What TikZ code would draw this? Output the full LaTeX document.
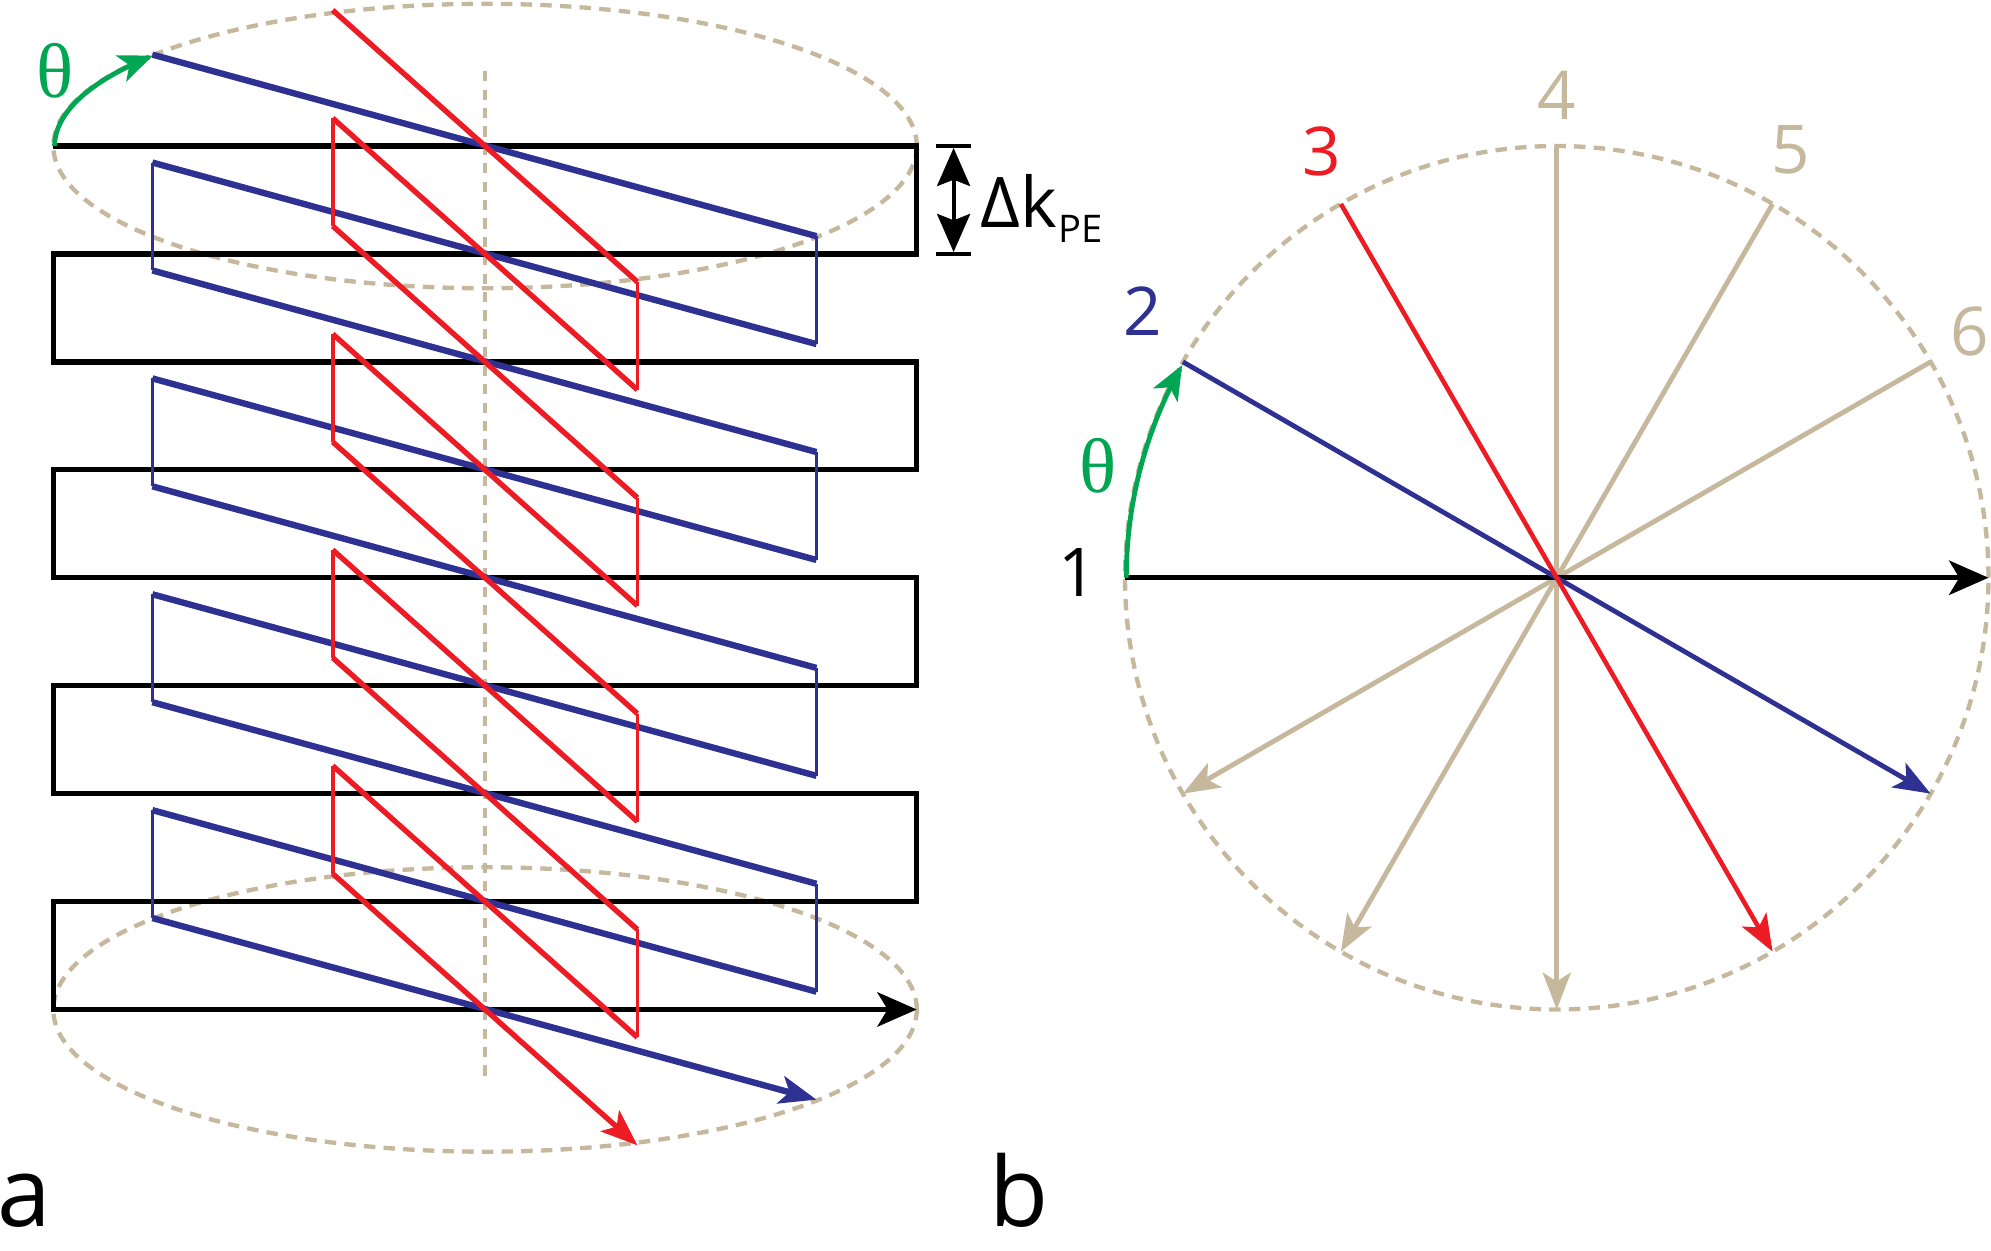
\documentclass[tikz,border=0pt]{standalone}
\usepackage{fontspec}
\setmainfont{Open Sans}
\newfontfamily\thetafont{Liberation Serif}
\usetikzlibrary{arrows.meta}
\definecolor{tanc}{RGB}{198,184,157}
\definecolor{kblue}{RGB}{46,49,146}
\definecolor{kred}{RGB}{237,28,36}
\definecolor{kgreen}{RGB}{0,166,81}
\begin{document}
\begin{tikzpicture}[x=1pt,y=-1pt,
  blk/.style={line width=4.2pt, black},
  bdiag/.style={line width=5pt, kblue},
  bvert/.style={line width=2.8pt, kblue},
  rdiag/.style={line width=4.2pt, kred},
  rvert/.style={line width=3pt, kred},
  dashring/.style={line width=3.4pt, tanc, dash pattern=on 9pt off 6.5pt},
  axisdash/.style={line width=2.8pt, tanc, dash pattern=on 8pt off 6.5pt},
  spoke/.style={line width=3.8pt},
  arrowbig/.style={-{Stealth[length=31pt,width=27pt,inset=8pt]}},
  arrowsmall/.style={-{Stealth[length=29pt,width=22pt,inset=7pt]}},
  arrowgreen/.style={-{Stealth[length=27pt,width=22pt,inset=7pt]}},
  lbl/.style={inner sep=0pt, font=\fontsize{53}{60}\selectfont, anchor=base},
  thetalbl/.style={inner sep=0pt, text=kgreen, font=\thetafont\fontsize{61}{64}\selectfont},
  panel/.style={inner sep=0pt, anchor=base west, font=\fontsize{76}{80}\selectfont},
]
\fill[white] (0,0) rectangle (1568,985);
\useasboundingbox (0,0) rectangle (1568,985);

% ---------- panel a ----------
\draw[dashring] (382,115) ellipse[x radius=340pt, y radius=112pt];
\draw[dashring] (382,795) ellipse[x radius=340pt, y radius=112pt];
\draw[axisdash] (382,56) -- (382,853);

\draw[blk, line join=miter, arrowbig] (42,115) -- (722,115) -- (722,200) -- (42,200)
  -- (42,285) -- (722,285) -- (722,370) -- (42,370) -- (42,455) -- (722,455)
  -- (722,540) -- (42,540) -- (42,625) -- (722,625) -- (722,710) -- (42,710)
  -- (42,795) -- (722,795);

\foreach \k in {0,...,7} \draw[bdiag] (120,43+85*\k) -- (643,186+85*\k);
\draw[bdiag, arrowsmall] (120,723) -- (643,866);
\foreach \k in {0,2,4,6} \draw[bvert] (643,186+85*\k) -- (643,271+85*\k);
\foreach \k in {1,3,5,7} \draw[bvert] (120,43+85*\k) -- (120,128+85*\k);

\foreach \k in {0,...,7} \draw[rdiag] (262,8+85*\k) -- (502,222+85*\k);
\draw[rdiag, arrowsmall] (262,688) -- (502,902);
\foreach \k in {0,2,4,6} \draw[rvert] (502,222+85*\k) -- (502,307+85*\k);
\foreach \k in {1,3,5,7} \draw[rvert] (262,8+85*\k) -- (262,93+85*\k);

\draw[kgreen, line width=3.8pt, arrowgreen] plot[domain=180:219.5, samples=40, smooth]
  ({382+339*cos(\x)},{115+112*sin(\x)});
\node[thetalbl] (thA) at (43,56) {θ};

\draw[line width=3.6pt] (737,115) -- (765,115) (737,200) -- (765,200);
\draw[line width=3pt, {Stealth[length=30pt,width=26pt,inset=5pt]}-{Stealth[length=30pt,width=26pt,inset=5pt]}] (751,116.5) -- (751,198.5);
\node[inner sep=0pt, anchor=base west] (dk) at (772,179)
  {\fontsize{55}{60}\selectfont Δk\hspace{1pt}\raisebox{-12pt}{\fontsize{30}{30}\selectfont PE}};

% ---------- panel b ----------
\coordinate (C) at (1226,455);
\draw[dashring] (C) circle[radius=340pt];
\draw[spoke, tanc, arrowsmall] (1226,115) -- (1226,795);
\draw[spoke, tanc, arrowsmall] (1396,160.6) -- (1056,749.4);
\draw[spoke, tanc, arrowsmall] (1520.4,285) -- (931.6,625);
\draw[line width=4.2pt, black, arrowbig] (886,455) -- (1566,455);
\draw[spoke, kblue, arrowsmall] (931.6,285) -- (1520.4,625);
\draw[line width=3.6pt, kred, arrowsmall] (1056,160.6) -- (1396,749.4);

\draw[kgreen, line width=3.8pt, arrowgreen] plot[domain=180:209.5, samples=40, smooth]
  ({1226+339*cos(\x)},{455+340*sin(\x)});
\node[thetalbl] (thB) at (865,367) {θ};

\node[lbl] (n1) at (849,470) {1};
\node[lbl, text=kblue] (n2) at (900,264) {2};
\node[lbl, text=kred] (n3) at (1041,138) {3};
\node[lbl, text=tanc] (n4) at (1226,94) {4};
\node[lbl, text=tanc] (n5) at (1410,137) {5};
\node[lbl, text=tanc] (n6) at (1551,280) {6};

\node[panel] (pa) at (-2,966) {a};
\node[panel] (pb) at (779,966) {b};
\end{tikzpicture}
\end{document}
